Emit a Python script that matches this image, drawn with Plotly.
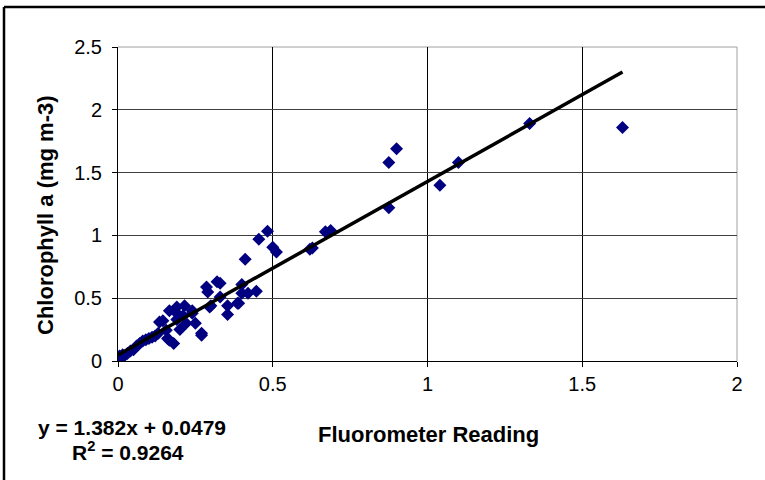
import plotly.graph_objects as go

# Fluorometer reading vs extracted chlorophyll a
fluorometer = [
    0.000, 0.005, 0.010, 0.015, 0.020, 0.030, 0.040, 0.050, 0.060, 0.070,
    0.080, 0.090, 0.100, 0.110, 0.120, 0.130, 0.134, 0.145, 0.156, 0.160,
    0.166, 0.166, 0.180, 0.190, 0.190, 0.190, 0.200, 0.210, 0.215, 0.220,
    0.240, 0.240, 0.250, 0.270, 0.270, 0.286, 0.290, 0.296, 0.300, 0.320,
    0.330, 0.330, 0.354, 0.354, 0.386, 0.390, 0.400, 0.400, 0.411, 0.420,
    0.447, 0.455, 0.483, 0.500, 0.512, 0.620, 0.628, 0.670, 0.687, 0.875,
    0.875, 0.900, 1.040, 1.100, 1.330, 1.630,
]
chlorophyll = [
    0.020, 0.040, 0.030, 0.050, 0.040, 0.060, 0.080, 0.090, 0.120, 0.140,
    0.160, 0.170, 0.180, 0.190, 0.200, 0.220, 0.310, 0.320, 0.245, 0.180,
    0.400, 0.165, 0.140, 0.380, 0.430, 0.330, 0.250, 0.360, 0.440, 0.300,
    0.400, 0.380, 0.300, 0.205, 0.220, 0.590, 0.550, 0.430, 0.440, 0.630,
    0.510, 0.620, 0.440, 0.370, 0.460, 0.460, 0.540, 0.610, 0.810, 0.540,
    0.556, 0.970, 1.034, 0.906, 0.867, 0.890, 0.900, 1.030, 1.040, 1.580,
    1.220, 1.690, 1.400, 1.580, 1.890, 1.860,
]

# Linear fit reported on the chart
slope = 1.382
intercept = 0.0479
r_squared = 0.9264
fit_x = [0.0, max(fluorometer)]
fit_y = [slope * v + intercept for v in fit_x]

x_ticks = [0, 0.5, 1, 1.5, 2]
x_tick_text = ["0", "0.5", "1", "1.5", "2"]
y_ticks = [0, 0.5, 1, 1.5, 2, 2.5]
y_tick_text = ["0", "0.5", "1", "1.5", "2", "2.5"]

W, H = 765, 480
ML, MR, MT, MB = 118, 28, 47, 119
PW, PH = W - ML - MR, H - MT - MB


def px(x):
    return (x - ML) / PW


def py(y):
    return (H - MB - y) / PH


FONT = "Liberation Sans, Arial, sans-serif"
TICK_SIZE = 20
TITLE_SIZE = 22
EQ_SIZE = 21

fig = go.Figure()
fig.add_trace(go.Scatter(
    x=fluorometer, y=chlorophyll, mode="markers",
    marker=dict(symbol="diamond", size=10, color="#000080",
                line=dict(width=0)),
    showlegend=False, hoverinfo="x+y",
))
fig.add_trace(go.Scatter(
    x=fit_x, y=fit_y, mode="lines",
    line=dict(color="black", width=3.5),
    showlegend=False, hoverinfo="skip",
))


def label(text, x, y, size, angle=0):
    return dict(text=text, textangle=angle, xref="paper", yref="paper",
                x=px(x), y=py(y), xanchor="center", yanchor="middle",
                showarrow=False, font=dict(size=size, family=FONT))


fig.update_layout(
    width=W, height=H,
    margin=dict(l=ML, r=MR, t=MT, b=MB),
    paper_bgcolor="white", plot_bgcolor="white",
    font=dict(family=FONT, color="black", size=TICK_SIZE),
    xaxis=dict(
        range=[0, 2], tickvals=x_ticks, ticktext=x_tick_text,
        showgrid=True, gridcolor="black", gridwidth=1,
        zeroline=False, showline=True, linecolor="black", linewidth=1,
        ticks="outside", ticklen=5, tickcolor="black",
        tickfont=dict(size=TICK_SIZE, family=FONT),
    ),
    yaxis=dict(
        range=[0, 2.5], tickvals=y_ticks, ticktext=y_tick_text,
        showgrid=True, gridcolor="#404040", gridwidth=1,
        zeroline=False, showline=True, linecolor="black", linewidth=1,
        ticks="outside", ticklen=5, tickcolor="black",
        ticklabelstandoff=6,
        tickfont=dict(size=TICK_SIZE, family=FONT),
    ),
    shapes=[
        # plot-area edges at the top and right
        dict(type="line", xref="paper", yref="paper", x0=0, x1=1, y0=1, y1=1,
             line=dict(color="#a0a0a0", width=1), layer="between"),
        dict(type="line", xref="paper", yref="paper", x0=1, x1=1, y0=0, y1=1,
             line=dict(color="#a0a0a0", width=1), layer="between"),
        # outer chart frame
        dict(type="line", xref="paper", yref="paper",
             x0=px(4), x1=px(4), y0=py(7), y1=py(H + 10),
             line=dict(color="black", width=2.5), layer="above"),
        dict(type="line", xref="paper", yref="paper",
             x0=px(4), x1=px(W + 10), y0=py(7), y1=py(7),
             line=dict(color="black", width=2.5), layer="above"),
    ],
    annotations=[
        label("<b>Chlorophyll a (mg m-3)</b>", 45, 215, TITLE_SIZE, -90),
        label("<b>Fluorometer Reading</b>", 428, 434, TITLE_SIZE),
        label(f"<b>y = {slope}x + {intercept}</b>", 132, 427, EQ_SIZE),
        label(f"<b>R<sup>2</sup> = {r_squared}</b>", 128, 451, EQ_SIZE),
    ],
)

fig.write_html("out.html")
